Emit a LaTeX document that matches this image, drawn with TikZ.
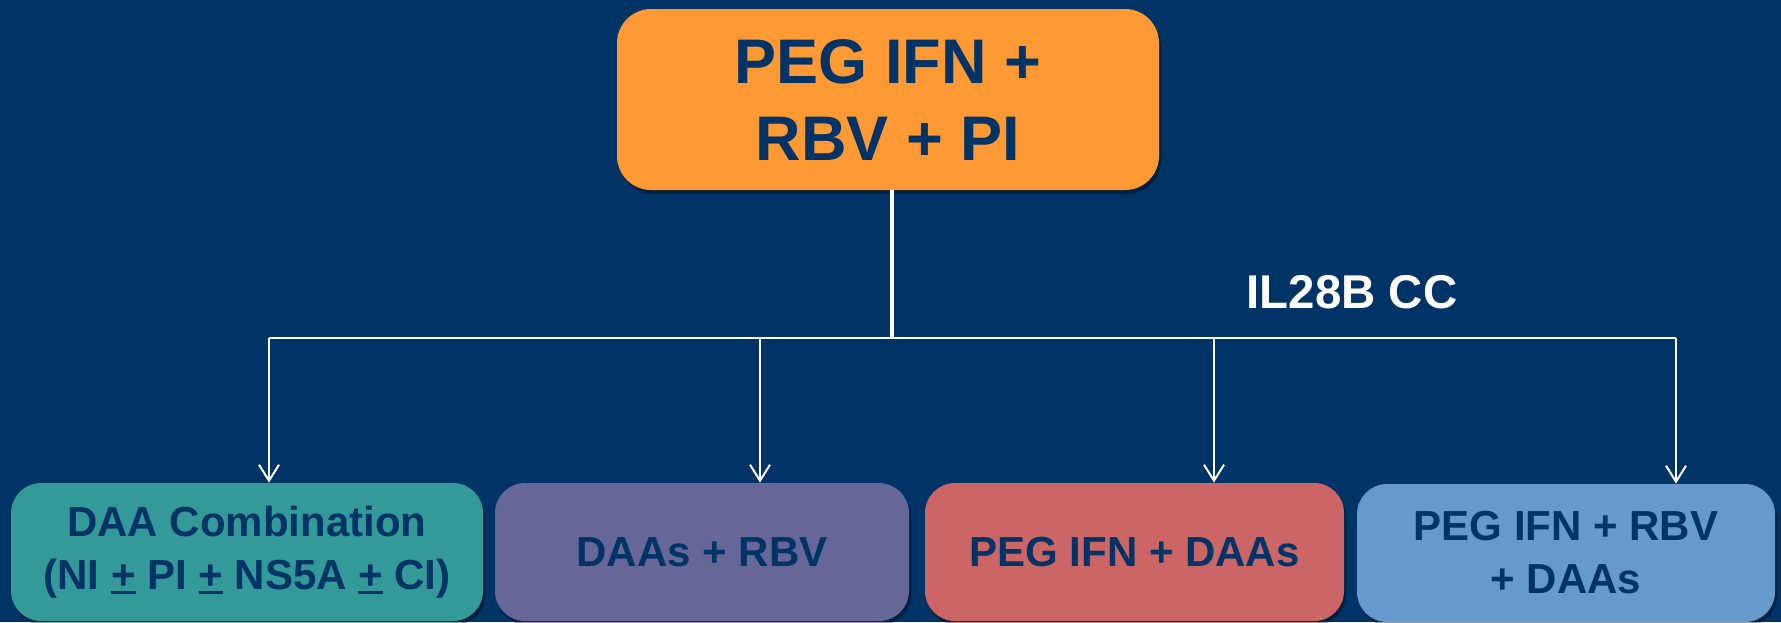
\documentclass[tikz,border=0pt]{standalone}
\usepackage{fontspec}
\setmainfont{Liberation Sans}
\usetikzlibrary{arrows.meta,shadows}
\definecolor{bgblue}{RGB}{0,51,102}
\definecolor{txtnavy}{RGB}{0,51,102}
\definecolor{boxorange}{RGB}{255,153,51}
\definecolor{boxteal}{RGB}{51,153,153}
\definecolor{boxpurple}{RGB}{102,102,153}
\definecolor{boxred}{RGB}{204,102,102}
\definecolor{boxblue}{RGB}{102,153,204}
\newcommand{\plusul}{\makebox[0pt][l]{\rule[-0.12em]{0.584em}{0.085em}}+}
\tikzset{
  shadowed/.style={drop shadow={opacity=0.35, shadow xshift=1pt, shadow yshift=-2pt, fill=black}},
  topbox/.style={rounded corners=17pt, align=center, text=txtnavy, inner sep=0pt,
    font=\bfseries\fontsize{31.5}{38.5}\selectfont, shadowed},
  lowbox/.style={rounded corners=15pt, align=center, text=txtnavy, inner sep=0pt,
    minimum height=69pt, font=\bfseries\fontsize{21}{26.5}\selectfont, shadowed},
  wire/.style={draw=white, line width=1pt},
  arr/.style={wire, -{Straight Barb[length=8pt,width=10pt,line width=1pt]}},
}
\begin{document}
\begin{tikzpicture}[x=0.5pt,y=-0.5pt]
\fill[bgblue] (0,0) rectangle (1781,622);
\useasboundingbox (0,0) rectangle (1781,622);

\node[topbox, fill=boxorange, minimum width=271pt, minimum height=90.5pt] (top) at (888,99.5) {PEG IFN +\\RBV + PI};

\node[lowbox, fill=boxteal, minimum width=236pt] (b1) at (247,552) {DAA Combination\\(NI \plusul{} PI \plusul{} NS5A \plusul{} CI)};
\node[lowbox, fill=boxpurple, minimum width=207pt] (b2) at (702,552) {DAAs + RBV};
\node[lowbox, fill=boxred, minimum width=209.5pt] (b3) at (1134.5,552) {PEG IFN + DAAs};
\node[lowbox, fill=boxblue, minimum width=209pt] (b4) at (1566,553) {PEG IFN + RBV\\+ DAAs};

\node[text=white, font=\bfseries\fontsize{23.7}{28}\selectfont] (il) at (1352,292) {IL28B CC};

\coordinate (j) at (892,338);
\coordinate (a1) at (269,338);
\coordinate (a2) at (760,338);
\coordinate (a3) at (1214,338);
\coordinate (a4) at (1676,338);

\draw[white, line width=1.6pt] (top.south -| j) -- (j);
\draw[wire] (a1) -- (a4);
\draw[arr] (a1) -- (a1 |- b1.north);
\draw[arr] (a2) -- (a2 |- b2.north);
\draw[arr] (a3) -- (a3 |- b3.north);
\draw[arr] (a4) -- (a4 |- b4.north);
\end{tikzpicture}
\end{document}
